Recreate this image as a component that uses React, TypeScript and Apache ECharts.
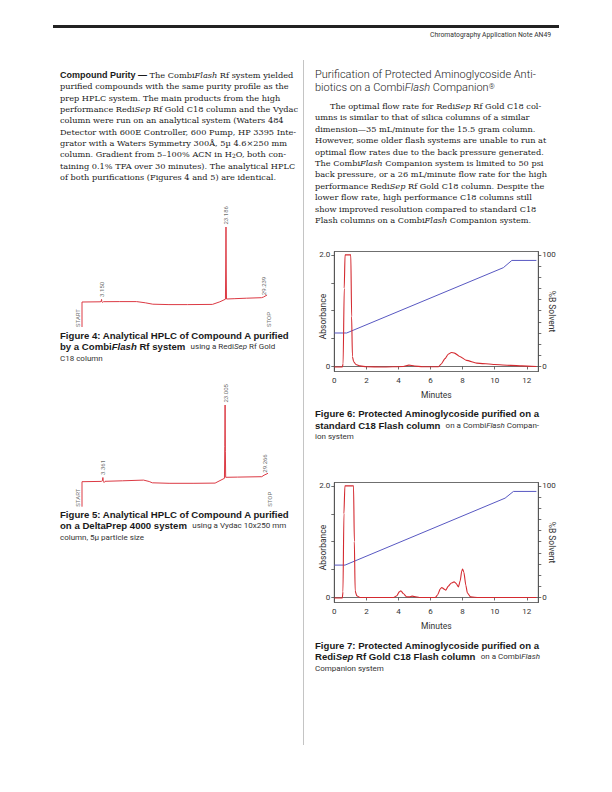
import React, { useEffect, useRef } from 'react';
import * as echarts from 'echarts';

// ---------- page texts ----------
const headerNote = 'Chromatography Application Note AN49';

const leftParagraph = [
  '{sb|Compound Purity —} The Combi{i|Flash} Rf system yielded',
  'purified compounds with the same purity profile as the',
  'prep HPLC system. The main products from the high',
  'performance Redi{i|Sep} Rf Gold C18 column and the Vydac',
  'column were run on an analytical system (Waters 484',
  'Detector with 600E Controller, 600 Pump, HP 3395 Inte-',
  'grator with a Waters Symmetry 300Å, 5µ 4.6×250 mm',
  'column. Gradient from 5–100% ACN in H{sub|2}O, both con-',
  'taining 0.1% TFA over 30 minutes). The analytical HPLC',
  'of both purifications (Figures 4 and 5) are identical.',
];

const rightHeading = [
  'Purification of Protected Aminoglycoside Anti-',
  'biotics on a Combi{i|Flash} Companion{sup|®}',
];

const rightParagraph = [
  'The optimal flow rate for Redi{i|Sep} Rf Gold C18 col-',
  'umns is similar to that of silica columns of a similar',
  'dimension—35 mL/minute for the 15.5 gram column.',
  'However, some older flash systems are unable to run at',
  'optimal flow rates due to the back pressure generated.',
  'The Combi{i|Flash} Companion system is limited to 50 psi',
  'back pressure, or a 26 mL/minute flow rate for the high',
  'performance Redi{i|Sep} Rf Gold C18 column. Despite the',
  'lower flow rate, high performance C18 columns still',
  'show improved resolution compared to standard C18',
  'Flash columns on a Combi{i|Flash} Companion system.',
];

const fig4Caption = [
  'Figure 4: Analytical HPLC of Compound A purified',
  'by a Combi{bi|Flash} Rf system  {l|using a Redi}{li|Sep}{l| Rf Gold}',
  '{l|C18 column}',
];
const fig5Caption = [
  'Figure 5: Analytical HPLC of Compound A purified',
  'on a DeltaPrep 4000 system  {l|using a Vydac 10x250 mm}',
  '{l|column, 5µ particle size}',
];
const fig6Caption = [
  'Figure 6: Protected Aminoglycoside purified on a',
  'standard C18 Flash column  {l|on a Combi}{li|Flash}{l| Compan-}',
  '{l|ion system}',
];
const fig7Caption = [
  'Figure 7: Protected Aminoglycoside purified on a',
  'Redi{bi|Sep} Rf Gold C18 Flash column  {l|on a Combi}{li|Flash}',
  '{l|Companion system}',
];

// ---------- Figure 4 / 5 : analytical HPLC traces (minutes, mV) ----------
const fig4Trace: number[][] = [
  [0, -25], [0, 0], [2.9, 0.2], [3.08, 0.4], [3.15, 2.6], [3.2, 0.2], [3.3, -0.4], [3.45, 0.3],
  [6, 0.4], [8.8, 0.4], [10.2, -0.8], [11.4, -2.2], [14, -2.6], [17, -2.6], [21, -2.4],
  [22.2, 0.2], [23.1, 2.8], [23.15, 40], [23.186, 75], [23.23, 30], [23.27, 3],
  [24.5, 3.3], [26.5, 3.8], [28.9, 4.3], [29.239, 5.0], [29.8, 7],
];
const fig4PeakTimes = [3.15, 23.186, 29.239];
const fig4PeakLevels = [2.6, 75, 4.3];

const fig5Trace: number[][] = [
  [0, -25], [0, 0], [3.1, 0.3], [3.28, 1], [3.361, 4.2], [3.42, 0.4], [3.55, -0.8], [3.7, 0.4],
  [6.5, 0.9], [9.9, 1.6], [10.8, 0.2], [11.3, -1.1], [14, -1.6], [18, -1.6], [21.4, -1.4],
  [22.9, 3.4], [22.96, 35], [23.005, 76.7], [23.05, 30], [23.1, 4.4],
  [25, 4.6], [28.9, 5], [29.266, 6.5], [29.9, 8.4],
];
const fig5PeakTimes = [3.361, 23.005, 29.266];
const fig5PeakLevels = [4.2, 76.7, 6.5];

const hplcMarkerNames = ['START', 'STOP'];
const hplcMarkerTimes = [0, 30];
const hplcMarkerLevel = -25;

// ---------- Figure 6 / 7 : flash chromatograms ----------
const minuteTicks = [0, 2, 4, 6, 8, 10, 12];
const absTicks = [0, 0.5, 1, 1.5, 2];
const absLabels = [0, 2];
const solventTicks = [0, 10, 20, 30, 40, 50, 60, 70, 80, 90, 100];
const solventLabels = [0, 100];

const fig6Absorbance: number[][] = [
  [0, -0.01], [0.5, -0.01], [0.55, 0.05], [0.62, 1.4], [0.67, 2.0], [1.03, 2.0], [1.08, 0.9],
  [1.13, 0.18], [1.2, 0.09], [1.35, 0.035], [1.6, 0.01], [2, -0.005], [3, -0.01], [4.3, 0],
  [4.65, 0.025], [5.0, 0.008], [5.5, -0.005], [6.5, -0.005], [6.65, 0.04], [6.9, 0.14],
  [7.1, 0.22], [7.3, 0.25], [7.5, 0.24], [7.82, 0.18], [8.24, 0.11], [8.88, 0.06],
  [10.0, 0.035], [11.0, 0.02], [11.7, 0.01], [12.6, 0],
];
const fig6Solvent: number[][] = [
  [0, 30], [0.77, 30], [10.54, 88.5], [11.07, 95], [12.6, 95],
];

const fig7Absorbance: number[][] = [
  [0, -0.01], [0.5, -0.01], [0.54, 0.1], [0.6, 1.5], [0.66, 2.0], [1.2, 2.0], [1.25, 1.0],
  [1.3, 0.12], [1.4, 0.03], [1.6, 0], [3.7, 0], [3.9, 0.03], [4.05, 0.1], [4.15, 0.12],
  [4.3, 0.07], [4.5, 0.012], [4.7, 0.01], [4.85, 0.025], [5.0, 0.015], [5.3, 0], [6.3, 0],
  [6.45, 0.05], [6.6, 0.15], [6.7, 0.18], [6.85, 0.15], [6.95, 0.13], [7.1, 0.2], [7.3, 0.26],
  [7.47, 0.28], [7.6, 0.25], [7.74, 0.19], [7.85, 0.3], [7.95, 0.48], [8.0, 0.51],
  [8.08, 0.45], [8.2, 0.22], [8.3, 0.08], [8.5, 0.01], [9, 0], [12.6, 0],
];
const fig7Solvent: number[][] = [
  [0, 29], [0.67, 29], [10.65, 89], [11.17, 95], [12.6, 95],
];

// ---------- styles ----------
const SERIF = '"DejaVu Serif", serif';
const SANS = '"Liberation Sans", Arial, sans-serif';
const COND = 'Roboto, "Liberation Sans", sans-serif';
const INK = '#1a1a1a';
const GREY = '#333';
const AXIS = '#4a4a4a';
const RED = '#d42a30';
const HPLC_RED = '#dc3a44';
const BLUE = '#5858c2';

const BODY_SIZE = 8.2;
const CAP_SIZE = 9.6;
const LIGHT_SIZE = 8;
const HEAD_SIZE = 11;

const bodyRich = {
  i: { fontFamily: SERIF, fontSize: BODY_SIZE, fontStyle: 'italic', fill: INK, lineHeight: 10 },
  sb: { fontFamily: SANS, fontSize: 9, fontWeight: 'bold', fill: INK, lineHeight: 10 },
  sub: { fontFamily: SERIF, fontSize: 5.8, fill: INK, verticalAlign: 'bottom', lineHeight: 10 },
};
const headRich = {
  i: { fontFamily: COND, fontSize: HEAD_SIZE, fontWeight: 300, fontStyle: 'italic', fill: INK, lineHeight: 11 },
  sup: { fontFamily: COND, fontSize: 7.5, fontWeight: 300, fill: INK, verticalAlign: 'top', lineHeight: 11 },
};
const capRich = {
  bi: { fontFamily: SANS, fontSize: CAP_SIZE, fontWeight: 'bold', fontStyle: 'italic', fill: INK, lineHeight: 10.5 },
  l: { fontFamily: COND, fontSize: LIGHT_SIZE, fontWeight: 400, fill: GREY, lineHeight: 10.5 },
  li: { fontFamily: COND, fontSize: LIGHT_SIZE, fontWeight: 400, fontStyle: 'italic', fill: GREY, lineHeight: 10.5 },
};

function textBlock(lines: string[], x: number, y0: number, step: number, base: any, rich: any, firstIndent = 0) {
  return lines.map((t, i) => ({
    type: 'text',
    x: x + (i === 0 ? firstIndent : 0),
    y: y0 + i * step,
    silent: true,
    style: { text: t, verticalAlign: 'middle', align: 'left', ...base, rich },
  }));
}

function buildOption() {
  const bodyBase = { fontFamily: SERIF, fontSize: BODY_SIZE, fill: INK, lineHeight: 10 };
  const capBase = { fontFamily: SANS, fontSize: CAP_SIZE, fontWeight: 'bold', fill: INK, lineHeight: 10.5 };
  const headBase = { fontFamily: COND, fontSize: HEAD_SIZE, fontWeight: 300, fill: INK, lineHeight: 11 };

  const graphic: any[] = [
    { type: 'rect', silent: true, shape: { x: 53, y: 25, width: 506, height: 3 }, style: { fill: '#222' } },
    {
      type: 'text', x: 430, y: 35, silent: true,
      style: { text: headerNote, fontFamily: COND, fontSize: 6.8, fill: GREY, verticalAlign: 'middle' },
    },
    { type: 'line', silent: true, shape: { x1: 303.5, y1: 60, x2: 303.5, y2: 745 }, style: { stroke: '#c4c4c4', lineWidth: 1 } },
    ...textBlock(leftParagraph, 60, 75, 11.35, bodyBase, bodyRich),
    ...textBlock(rightHeading, 315, 74.5, 13, headBase, headRich),
    ...textBlock(rightParagraph, 315, 106, 11.4, bodyBase, bodyRich, 15),
    ...textBlock(fig4Caption, 60, 335, 11.6, capBase, capRich),
    ...textBlock(fig5Caption, 60, 514, 11.6, capBase, capRich),
    ...textBlock(fig6Caption, 315, 413.5, 11.6, capBase, capRich),
    ...textBlock(fig7Caption, 315, 645, 11.6, capBase, capRich),
  ];

  const hiddenX = (gridIndex: number) => ({ type: 'value', gridIndex, min: 0, max: 30, show: false });
  const hiddenY = (gridIndex: number, max: number) => ({ type: 'value', gridIndex, min: hplcMarkerLevel, max, show: false });

  const axisLine = { show: true, lineStyle: { color: AXIS, width: 0.8 } };
  const tickStyle = { color: AXIS, width: 0.8 };
  const labelFont = { fontFamily: COND, fontSize: 8, color: GREY };
  const nameFont = { fontFamily: COND, fontSize: 8.5, color: GREY };

  const minuteAxis = (gridIndex: number) => ({
    type: 'value', gridIndex, min: 0, max: 12.72,
    axisLine,
    axisTick: { show: true, length: 3, customValues: minuteTicks, lineStyle: tickStyle },
    axisLabel: { ...labelFont, margin: 5, customValues: minuteTicks },
    splitLine: { show: false },
    name: 'Minutes', nameLocation: 'middle', nameGap: 19, nameMoveOverlap: false,
    nameTextStyle: nameFont,
  });
  const absAxis = (gridIndex: number) => ({
    type: 'value', gridIndex, position: 'left', min: -0.09, max: 2.06,
    axisLine,
    axisTick: { show: true, length: 3, customValues: absTicks, lineStyle: tickStyle },
    axisLabel: { ...labelFont, margin: 4, customValues: absLabels, formatter: (v: number) => (v === 0 ? '0' : v.toFixed(1)) },
    splitLine: { show: false },
    name: 'Absorbance', nameLocation: 'middle', nameGap: 7, nameRotate: 90, nameMoveOverlap: false,
    nameTextStyle: { ...nameFont, padding: [0, 0, 0, -10] },
  });
  const solventAxis = (gridIndex: number) => ({
    type: 'value', gridIndex, position: 'right', min: -4.5, max: 103,
    axisLine,
    axisTick: { show: true, length: 3, customValues: solventTicks, lineStyle: tickStyle },
    axisLabel: { ...labelFont, margin: 4, customValues: solventLabels },
    splitLine: { show: false },
    name: '%B Solvent', nameLocation: 'middle', nameGap: 9, nameRotate: -90, nameMoveOverlap: false,
    nameTextStyle: nameFont,
  });

  const peakLabelSeries = (idx: number, times: number[], levels: number[]) => ({
    type: 'scatter', xAxisIndex: idx, yAxisIndex: idx, silent: true,
    symbolSize: 1, itemStyle: { color: 'rgba(0,0,0,0)' },
    data: times.map((t, i) => [t, levels[i]]),
    label: {
      show: true, position: 'top', distance: 2, rotate: 90, align: 'left', verticalAlign: 'middle',
      formatter: (p: any) => Number(p.value[0]).toFixed(3),
      fontFamily: COND, fontSize: 6, color: '#444',
    },
  });
  const markerSeries = (idx: number) => ({
    type: 'scatter', xAxisIndex: idx, yAxisIndex: idx, silent: true,
    symbolSize: 1, itemStyle: { color: 'rgba(0,0,0,0)' },
    data: hplcMarkerTimes.map((t, i) => ({
      value: [t, hplcMarkerLevel],
      label: { offset: [0, i === 0 ? -4.5 : 0.5] },
    })),
    label: {
      show: true, position: 'inside', rotate: 90, align: 'left', verticalAlign: 'middle',
      formatter: (p: any) => hplcMarkerNames[p.dataIndex],
      fontFamily: COND, fontSize: 6, color: '#444',
    },
  });

  return {
    animation: false,
    backgroundColor: '#fff',
    graphic,
    grid: [
      { left: 82, top: 227, width: 186.3, height: 100, show: false },
      { left: 82, top: 405, width: 186.6, height: 101.7, show: false },
      { left: 334.3, top: 251.5, width: 204, height: 120, show: true, borderColor: AXIS, borderWidth: 0.8 },
      { left: 334.3, top: 482.5, width: 204, height: 120, show: true, borderColor: AXIS, borderWidth: 0.8 },
    ],
    xAxis: [hiddenX(0), hiddenX(1), minuteAxis(2), minuteAxis(3)],
    yAxis: [hiddenY(0, 75), hiddenY(1, 76.7), absAxis(2), solventAxis(2), absAxis(3), solventAxis(3)],
    series: [
      { type: 'line', xAxisIndex: 0, yAxisIndex: 0, data: fig4Trace, symbol: 'none', clip: false, lineStyle: { color: HPLC_RED, width: 1 } },
      peakLabelSeries(0, fig4PeakTimes, fig4PeakLevels),
      markerSeries(0),
      { type: 'line', xAxisIndex: 1, yAxisIndex: 1, data: fig5Trace, symbol: 'none', clip: false, lineStyle: { color: HPLC_RED, width: 1 } },
      peakLabelSeries(1, fig5PeakTimes, fig5PeakLevels),
      markerSeries(1),
      { type: 'line', xAxisIndex: 2, yAxisIndex: 3, data: fig6Solvent, symbol: 'none', lineStyle: { color: BLUE, width: 1 } },
      { type: 'line', xAxisIndex: 2, yAxisIndex: 2, data: fig6Absorbance, symbol: 'none', smooth: 0.2, smoothMonotone: 'x', lineStyle: { color: RED, width: 1.1 } },
      { type: 'line', xAxisIndex: 3, yAxisIndex: 5, data: fig7Solvent, symbol: 'none', lineStyle: { color: BLUE, width: 1 } },
      { type: 'line', xAxisIndex: 3, yAxisIndex: 4, data: fig7Absorbance, symbol: 'none', smooth: 0.2, smoothMonotone: 'x', lineStyle: { color: RED, width: 1.1 } },
    ],
  };
}

export default function App() {
  const ref = useRef<HTMLDivElement>(null);
  useEffect(() => {
    if (!ref.current) return;
    const chart = echarts.init(ref.current, undefined, { renderer: 'svg', width: 612, height: 792 });
    chart.setOption(buildOption() as any);
    return () => chart.dispose();
  }, []);
  return (
    <div
      ref={ref}
      style={{ position: 'absolute', left: 0, top: 0, width: 612, height: 792, background: '#fff' }}
    />
  );
}
